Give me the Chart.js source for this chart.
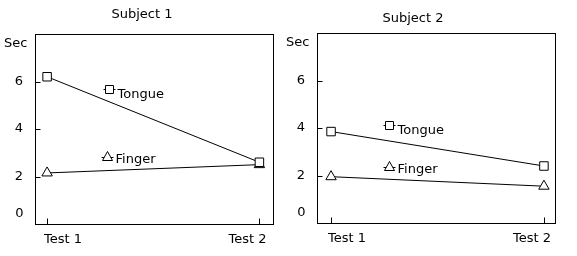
<!DOCTYPE html>
<html>
<head>
<meta charset="utf-8">
<script src="https://cdn.jsdelivr.net/npm/chart.js@4.4.1/dist/chart.umd.min.js"></script>
<style>
  body { margin: 0; background: #fff; }
  #wrap { position: relative; width: 577px; height: 256px; }
  canvas { position: absolute; top: 0; }
</style>
</head>
<body>
<div id="wrap">
  <canvas id="subject1" width="280" height="256" style="left:0"></canvas>
  <canvas id="subject2" width="297" height="256" style="left:280px"></canvas>
</div>
<script>
const categories = ['Test 1', 'Test 2'];
const seriesNames = ['Tongue', 'Finger'];
const subject1Tongue = [6.2, 2.6];
const subject1Finger = [2.15, 2.5];
const subject2Tongue = [3.85, 2.4];
const subject2Finger = [1.95, 1.55];
const yTicks = [0, 2, 4, 6];
const yUnit = 'Sec';

const FONT = '13px "DejaVu Sans"';

// frame, inward tick marks, category labels, title, unit and the in-plot keys
const panelDecor = {
  id: 'panelDecor',
  afterDraw(chart, args, opts) {
    const ctx = chart.ctx;
    const a = chart.chartArea;
    const xs = chart.scales.x, ys = chart.scales.y;
    ctx.save();
    ctx.strokeStyle = '#000';
    ctx.lineWidth = 1;
    const L = Math.round(a.left) + 0.5, T = Math.round(a.top) + 0.5;
    const R = Math.round(a.right) + 0.5, B = Math.round(a.bottom) + 0.5;
    ctx.strokeRect(L, T, R - L, B - T);

    ctx.beginPath();
    categories.forEach((c, i) => {
      const px = Math.round(xs.getPixelForValue(i)) + 0.5;
      ctx.moveTo(px, B); ctx.lineTo(px, B - 6);
    });
    yTicks.filter(v => v > 0).forEach(v => {
      const py = Math.round(ys.getPixelForValue(v)) + 0.5;
      ctx.moveTo(L, py); ctx.lineTo(L + 5, py);
    });
    ctx.stroke();

    ctx.font = FONT;
    ctx.fillStyle = '#000';

    // first label hangs right of its tick, last one past its tick
    ctx.textBaseline = 'alphabetic';
    categories.forEach((c, i) => {
      const px = xs.getPixelForValue(i);
      const first = i === 0;
      ctx.textAlign = first ? 'left' : 'right';
      ctx.fillText(c, first ? px - 3 : px + 7, B + 18);
    });

    ctx.textAlign = 'right';
    ctx.textBaseline = 'middle';
    ctx.fillText(yUnit, L - 8, T + 9);
    ctx.fillText(String(yTicks[0]), L - 12, ys.getPixelForValue(yTicks[0]) - 10);

    ctx.textAlign = 'center';
    ctx.textBaseline = 'alphabetic';
    ctx.fillText(opts.title, opts.titleX, opts.titleY);

    chart.data.datasets.forEach((ds, i) => {
      const k = opts.keys[i];
      const px = Math.round(xs.getPixelForValue(k.x)) + 0.5;
      const py = Math.round(ys.getPixelForValue(k.y)) + 0.5;
      ctx.beginPath();
      ctx.moveTo(px - 6, py); ctx.lineTo(px + 6, py);
      ctx.stroke();
      ctx.beginPath();
      if (ds.pointStyle === 'rect') {
        ctx.rect(px - 4, py - 4, 8, 8);
      } else {
        ctx.moveTo(px, py - 6);
        ctx.lineTo(px + 5, py + 3);
        ctx.lineTo(px - 5, py + 3);
        ctx.closePath();
      }
      ctx.fillStyle = '#fff';
      ctx.fill();
      ctx.stroke();
      ctx.fillStyle = '#000';
      ctx.textAlign = 'left';
      ctx.fillText(ds.label, px + 8, py + (ds.pointStyle === 'rect' ? 8 : 5));
    });
    ctx.restore();
  }
};

function makeDataset(name, values, style) {
  return {
    label: name,
    data: categories.map((c, i) => ({ x: i, y: values[i] })),
    borderColor: '#000',
    borderWidth: 1,
    pointStyle: style,
    pointRadius: 6,
    pointHoverRadius: 6,
    pointBorderWidth: 1,
    pointBorderColor: '#000',
    pointBackgroundColor: '#fff',
    fill: false,
    tension: 0
  };
}

function makeChart(id, tongue, finger, cfg) {
  return new Chart(document.getElementById(id), {
    type: 'line',
    data: {
      datasets: [
        makeDataset(seriesNames[0], tongue, 'rect'),
        makeDataset(seriesNames[1], finger, 'triangle')
      ]
    },
    plugins: [panelDecor],
    options: {
      responsive: false,
      animation: false,
      events: [],
      layout: { padding: { top: cfg.top, right: cfg.right, left: 0, bottom: 0 } },
      scales: {
        x: {
          type: 'linear',
          min: cfg.xMin,
          max: cfg.xMax,
          afterBuildTicks: s => { s.ticks = categories.map((c, i) => ({ value: i })); },
          afterFit: s => { s.height = cfg.xHeight; },
          grid: { display: false, drawTicks: false },
          border: { display: false },
          ticks: { display: false }
        },
        y: {
          min: 0,
          max: 8,
          afterBuildTicks: s => { s.ticks = yTicks.filter(v => v > 0).map(v => ({ value: v })); },
          afterFit: s => { s.width = cfg.yWidth; },
          grid: { display: false, drawTicks: false },
          border: { display: false },
          ticks: {
            padding: 12,
            color: '#000',
            font: { family: 'DejaVu Sans', size: 13 }
          }
        }
      },
      plugins: {
        legend: { display: false },
        tooltip: { enabled: false },
        title: { display: false },
        panelDecor: {
          title: cfg.title,
          titleX: cfg.titleX,
          titleY: cfg.titleY,
          keys: cfg.keys
        }
      }
    }
  });
}

makeChart('subject1', subject1Tongue, subject1Finger, {
  title: 'Subject 1', titleX: 142, titleY: 18,
  top: 34, right: 4, xHeight: 32, yWidth: 35,
  xMin: -0.057, xMax: 1.064,
  keys: [{ x: 0.29, y: 5.67 }, { x: 0.28, y: 2.84 }]
});

makeChart('subject2', subject2Tongue, subject2Finger, {
  title: 'Subject 2', titleX: 133, titleY: 22,
  top: 33, right: 22, xHeight: 33, yWidth: 37,
  xMin: -0.066, xMax: 1.052,
  keys: [{ x: 0.274, y: 4.13 }, { x: 0.27, y: 2.35 }]
});
</script>
</body>
</html>
